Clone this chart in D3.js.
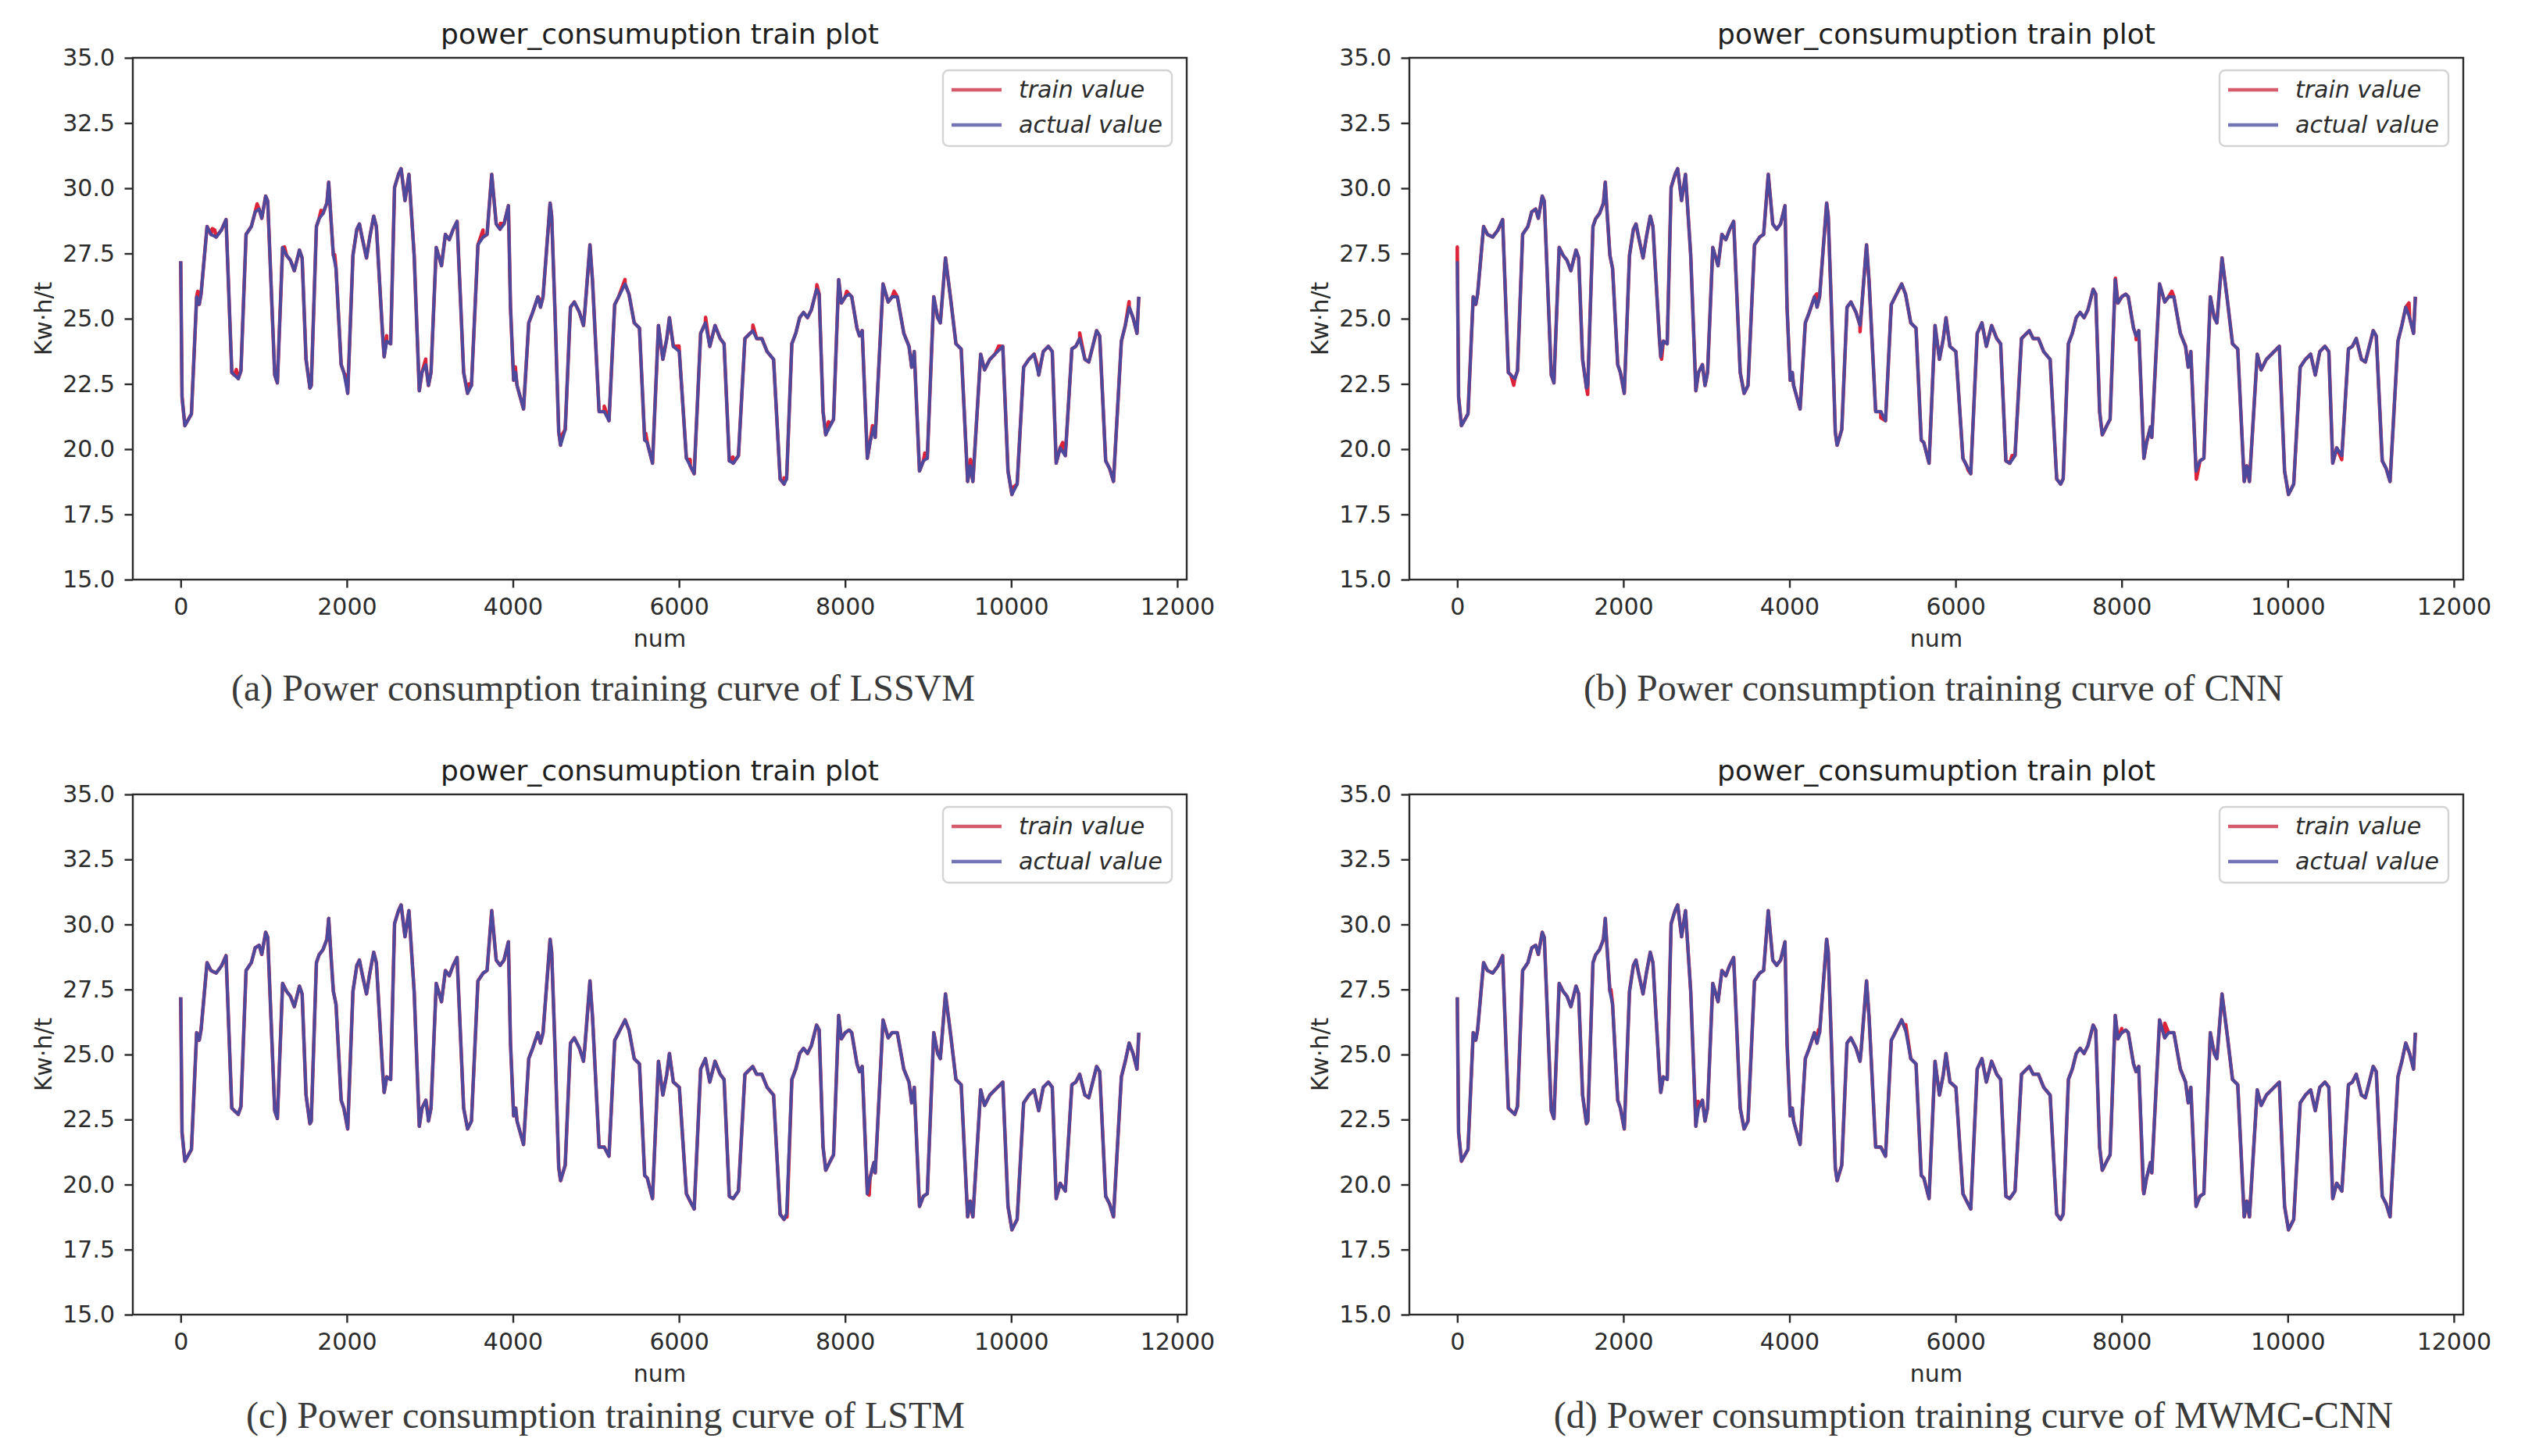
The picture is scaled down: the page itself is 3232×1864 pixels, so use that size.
<!DOCTYPE html>
<html>
<head>
<meta charset="utf-8">
<script src="https://cdn.jsdelivr.net/npm/d3@7"></script>
<style>
  body { margin: 0; background: #fff; }
  svg { display: block; }
</style>
</head>
<body>
<svg width="3232" height="1864"></svg>
<script>
// sample index (x) and actual power consumption (Kw·h/t)
const sampleNum = [0, 16, 50, 129, 192, 223, 245, 317, 364, 427, 490, 546, 615, 646, 693, 725, 787, 850, 897, 944,
  976, 1023, 1048, 1132, 1164, 1227, 1274, 1321, 1368, 1430, 1462, 1509, 1556, 1572, 1634, 1666, 1713, 1760, 1782, 1801,
  1838, 1870, 1932, 1964, 2011, 2074, 2121, 2152, 2183, 2237, 2277, 2324, 2356, 2434, 2450, 2481, 2528, 2575, 2622, 2654,
  2701, 2748, 2811, 2873, 2905, 2952, 2983, 3014, 3077, 3140, 3187, 3234, 3281, 3328, 3407, 3454, 3501, 3579, 3642, 3689,
  3745, 3799, 3846, 3893, 3946, 3971, 4009, 4034, 4050, 4128, 4191, 4238, 4301, 4332, 4363, 4448, 4467, 4505, 4552, 4574,
  4630, 4693, 4740, 4802, 4850, 4865, 4928, 4959, 5038, 5100, 5157, 5226, 5273, 5351, 5398, 5461, 5524, 5587, 5618, 5681,
  5753, 5806, 5853, 5885, 5932, 6004, 6089, 6136, 6183, 6261, 6318, 6371, 6434, 6496, 6543, 6606, 6653, 6716, 6794, 6888,
  6935, 6998, 7061, 7139, 7218, 7265, 7296, 7359, 7406, 7453, 7500, 7547, 7594, 7657, 7688, 7735, 7767, 7829, 7861, 7923,
  7955, 8002, 8049, 8080, 8143, 8174, 8206, 8268, 8300, 8347, 8363, 8457, 8519, 8566, 8629, 8707, 8770, 8802, 8833, 8896,
  8943, 8990, 9068, 9115, 9147, 9209, 9272, 9335, 9398, 9476, 9507, 9539, 9633, 9680, 9743, 9805, 9899, 9962, 10009, 10072,
  10150, 10213, 10276, 10332, 10386, 10448, 10495, 10542, 10590, 10652, 10731, 10778, 10825, 10888, 10935, 11029, 11066, 11138, 11185, 11232,
  11327, 11374, 11421, 11468, 11515, 11537];

const actualValue = [27.2, 22.0, 20.9, 21.35, 25.84, 25.55, 25.95, 28.53, 28.23, 28.13, 28.4, 28.8, 22.94, 22.84, 22.7, 23.0, 28.23, 28.53, 29.1, 29.2,
  28.85, 29.7, 29.5, 22.84, 22.54, 27.73, 27.43, 27.24, 26.84, 27.63, 27.33, 23.44, 22.34, 22.44, 28.53, 28.83, 29.03, 29.43, 30.23, 29.23,
  27.43, 26.93, 23.24, 22.94, 22.14, 27.43, 28.43, 28.63, 28.13, 27.33, 28.13, 28.93, 28.53, 24.24, 23.54, 24.14, 24.04, 30.03, 30.53, 30.75,
  29.53, 30.53, 27.43, 22.24, 22.94, 23.24, 22.44, 22.94, 27.73, 27.03, 28.23, 28.03, 28.43, 28.73, 22.94, 22.14, 22.44, 27.83, 28.13, 28.23,
  30.53, 28.63, 28.43, 28.63, 29.33, 25.44, 22.64, 22.94, 22.44, 21.54, 24.84, 25.24, 25.84, 25.44, 25.84, 29.43, 28.93, 25.44, 20.65, 20.15,
  20.75, 25.44, 25.64, 25.24, 24.74, 25.24, 27.83, 26.43, 21.44, 21.44, 21.09, 25.54, 25.84, 26.33, 25.94, 24.84, 24.64, 20.35, 20.25, 19.46,
  24.74, 23.44, 24.24, 25.04, 23.94, 23.74, 19.65, 19.35, 19.06, 24.44, 24.84, 23.94, 24.74, 24.24, 24.04, 19.55, 19.46, 19.75, 24.24, 24.54,
  24.24, 24.24, 23.74, 23.44, 18.86, 18.66, 18.86, 24.04, 24.44, 25.04, 25.24, 25.04, 25.34, 26.13, 25.94, 21.44, 20.55, 20.95, 21.14, 26.5,
  25.6, 25.84, 25.94, 25.84, 24.64, 24.34, 24.54, 19.65, 20.25, 20.85, 20.45, 26.33, 25.64, 25.84, 25.84, 24.44, 23.94, 23.14, 23.74, 19.16,
  19.55, 19.65, 25.84, 25.04, 24.84, 27.33, 25.74, 24.04, 23.84, 18.76, 19.36, 18.76, 23.64, 23.04, 23.44, 23.64, 23.94, 19.16, 18.26, 18.66,
  23.14, 23.44, 23.64, 22.84, 23.74, 23.94, 23.74, 19.46, 20.05, 19.75, 23.84, 23.94, 24.24, 23.44, 23.34, 24.54, 24.34, 19.55, 19.26, 18.76,
  24.14, 24.74, 25.44, 25.04, 24.44, 25.84];

// points where each model's training output leaves the actual curve: [num, value]
const trainDevLSSVM = [[205, 26.05], [380, 28.45], [410, 28.4], [670, 23.05], [920, 29.4], [1250, 27.75], [1690, 29.15],
  [1854, 27.45], [1990, 22.8], [2480, 24.35], [2950, 23.45], [3470, 22.5], [3640, 28.4], [3850, 28.65], [4030, 23.15],
  [4330, 25.7], [4575, 20.45], [5100, 21.65], [5350, 26.5], [5600, 20.6], [6000, 23.95], [6135, 19.6], [6320, 25.05],
  [6650, 19.7], [6890, 24.75], [7265, 18.9], [7660, 26.3], [7800, 21.05], [8020, 26.05], [8330, 20.9], [8590, 26.05],
  [8960, 19.85], [9510, 19.6], [9850, 23.95], [10030, 18.55], [10330, 23.05], [10620, 20.25], [10825, 24.45], [11420, 25.65]];
const trainDevCNN = [[0, 27.75], [680, 22.45], [1570, 22.1], [2460, 23.45], [4330, 25.95], [4850, 24.5], [5100, 21.2],
  [6150, 19.2], [6680, 19.75], [7925, 26.55], [8175, 24.2], [8605, 26.05], [8900, 18.85], [10650, 19.6], [11460, 25.6]];
const trainDevLSTM = [[2980, 22.65], [7300, 18.75], [8290, 19.6], [10030, 18.4]];
const trainDevMWMC = [[1850, 27.5], [2900, 23.2], [4350, 25.95], [5400, 26.15], [8000, 26.0], [8260, 19.8], [8520, 26.2]];

const xTicks = [0, 2000, 4000, 6000, 8000, 10000, 12000];
const yTicks = [15, 17.5, 20, 22.5, 25, 27.5, 30, 32.5, 35];
const legendLabels = ["train value", "actual value"];

const panels = [
  { dev: trainDevLSSVM, caption: "(a) Power consumption training curve of LSSVM", left: 170, top: 74, h: 668, capX: 772, capY: 897 },
  { dev: trainDevCNN, caption: "(b) Power consumption training curve of CNN", left: 1804, top: 74, h: 668, capX: 2475, capY: 897 },
  { dev: trainDevLSTM, caption: "(c) Power consumption training curve of LSTM", left: 170, top: 1017, h: 666, capX: 775, capY: 1828 },
  { dev: trainDevMWMC, caption: "(d) Power consumption training curve of MWMC-CNN", left: 1804, top: 1017, h: 666, capX: 2526, capY: 1828 }
];

const W = 1349;
const font = "'DejaVu Sans', sans-serif";
const trainColor = "#dc2339";
const actualColor = "#4d4a9e";

const svg = d3.select("svg");
svg.append("rect").attr("width", 3232).attr("height", 1864).attr("fill", "#fff");

const actualPts = sampleNum.map((n, i) => [n, actualValue[i]]);
const xMax = d3.max(sampleNum);

panels.forEach((p, k) => {
  const g = svg.append("g").attr("transform", `translate(${p.left},${p.top})`);

  const x = d3.scaleLinear().domain([-0.05 * xMax, 1.05 * xMax]).range([0, W]);
  const y = d3.scaleLinear().domain([15, 35]).range([p.h, 0]);

  g.append("clipPath").attr("id", "clip" + k)
    .append("rect").attr("width", W).attr("height", p.h);

  const line = d3.line().x(d => x(d[0])).y(d => y(d[1]));
  const trainPts = actualPts.concat(p.dev).sort((a, b) => a[0] - b[0]);

  const lines = g.append("g").attr("clip-path", `url(#clip${k})`);
  lines.append("path").datum(trainPts)
    .attr("d", line).attr("fill", "none")
    .attr("stroke", trainColor).attr("stroke-width", 4.5).attr("stroke-linejoin", "round");
  lines.append("path").datum(actualPts)
    .attr("d", line).attr("fill", "none")
    .attr("stroke", actualColor).attr("stroke-width", 4).attr("stroke-linejoin", "round");

  // axes
  const ax = g.append("g").attr("transform", `translate(0,${p.h})`)
    .call(d3.axisBottom(x).tickValues(xTicks).tickFormat(d3.format("d")).tickSize(10.5).tickPadding(13));
  const ay = g.append("g")
    .call(d3.axisLeft(y).tickValues(yTicks).tickFormat(d3.format(".1f")).tickSize(10.5).tickPadding(12.5));
  [ax, ay].forEach(a => {
    a.select(".domain").remove();
    a.selectAll("line").attr("stroke", "#2b2b2b").attr("stroke-width", 2.4);
    a.selectAll("text").attr("fill", "#2b2b2b").style("font-family", font).style("font-size", "30px");
  });

  g.append("rect").attr("width", W).attr("height", p.h)
    .attr("fill", "none").attr("stroke", "#2b2b2b").attr("stroke-width", 2.4);

  // title and axis labels
  g.append("text").attr("x", W / 2).attr("y", -18)
    .attr("text-anchor", "middle").attr("fill", "#1e1e1e")
    .style("font-family", font).style("font-size", "36px")
    .text("power_consumuption train plot");

  g.append("text").attr("x", W / 2).attr("y", p.h + 86)
    .attr("text-anchor", "middle").attr("fill", "#2b2b2b")
    .style("font-family", font).style("font-size", "30px")
    .text("num");

  g.append("text")
    .attr("transform", `translate(-104,${p.h / 2}) rotate(-90)`)
    .attr("text-anchor", "middle").attr("fill", "#2b2b2b")
    .style("font-family", font).style("font-size", "30px")
    .text("Kw·h/t");

  // legend
  const lg = g.append("g").attr("transform", `translate(${W - 312},16)`);
  lg.append("rect").attr("width", 293).attr("height", 97).attr("rx", 7)
    .attr("fill", "#fff").attr("fill-opacity", 0.8)
    .attr("stroke", "#d4d4d4").attr("stroke-width", 2.4);
  [trainColor, actualColor].forEach((c, i) => {
    lg.append("line").attr("x1", 11).attr("x2", 75)
      .attr("y1", 25 + i * 45).attr("y2", 25 + i * 45)
      .attr("stroke", i === 0 ? "#d45a6c" : "#7473b4").attr("stroke-width", 4.5);
    lg.append("text").attr("x", 97).attr("y", 35 + i * 45)
      .attr("fill", "#2b2b2b")
      .style("font-family", font).style("font-size", "30px").style("font-style", "italic")
      .text(legendLabels[i]);
  });

  // caption under the panel
  svg.append("text").attr("x", p.capX).attr("y", p.capY)
    .attr("text-anchor", "middle").attr("fill", "#3a3a3a")
    .style("font-family", "'Liberation Serif', 'Times New Roman', serif").style("font-size", "48px")
    .text(p.caption);
});
</script>
</body>
</html>
